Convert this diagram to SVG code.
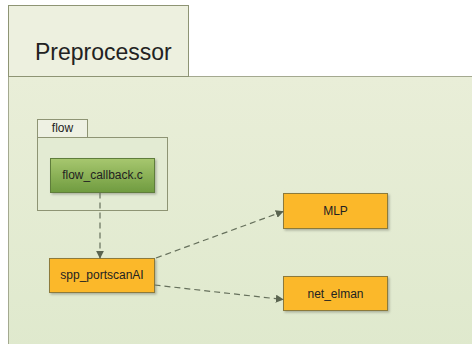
<svg xmlns="http://www.w3.org/2000/svg" width="472" height="344" viewBox="0 0 472 344">
<defs>
<linearGradient id="bg" x1="0" y1="0" x2="0" y2="1">
<stop offset="0" stop-color="#e9eed8"/>
<stop offset="1" stop-color="#dfe9cd"/>
</linearGradient>
<linearGradient id="green" x1="0" y1="0" x2="0" y2="1">
<stop offset="0" stop-color="#a7c76f"/>
<stop offset="1" stop-color="#6f9b3f"/>
</linearGradient>
<filter id="sh" x="-10%" y="-10%" width="130%" height="140%">
<feDropShadow dx="1.5" dy="1.5" stdDeviation="1" flood-color="#000" flood-opacity="0.25"/>
</filter>
<marker id="arr" viewBox="0 0 10 10" refX="9" refY="5" markerWidth="8" markerHeight="8" orient="auto" markerUnits="userSpaceOnUse">
<path d="M0,0 L10,5 L0,10 z" fill="#5a6450"/>
</marker>
</defs>
<style>
text{font-family:"Liberation Sans",Arial,sans-serif;fill:#222;}
.lbl{font-size:12px;text-anchor:middle;}
.orange{fill:#fbb829;stroke:#8c7a3a;stroke-width:1;}
.conn{fill:none;stroke:#66705c;stroke-width:1.2;stroke-dasharray:6,4;marker-end:url(#arr);}
</style>
<rect width="472" height="344" fill="#ffffff"/>
<g id="preprocessor">
<rect x="8.5" y="76.5" width="470" height="275" fill="url(#bg)" stroke="#a4a990" stroke-width="1"/>
<rect x="8.5" y="5.5" width="180" height="71" fill="#edf0df" stroke="#8e9474" stroke-width="1"/>
<text x="35" y="60" font-size="23">Preprocessor</text>
</g>
<g id="flow">
<rect x="37.5" y="137.5" width="130" height="73" fill="#e3ebd3" stroke="#8e9474" stroke-width="1"/>
<rect x="37.5" y="119.5" width="50" height="18" fill="#eef1e3" stroke="#8e9474" stroke-width="1"/>
<text x="62.5" y="132" class="lbl">flow</text>
</g>
<g id="flow_callback">
<rect x="50.5" y="158.5" width="104" height="34" fill="url(#green)" stroke="#5e7d3a" stroke-width="1" filter="url(#sh)"/>
<text x="102.5" y="178.5" class="lbl">flow_callback.c</text>
</g>
<g id="spp_portscanAI">
<rect x="49.5" y="258.5" width="105" height="34" class="orange" filter="url(#sh)"/>
<text x="102" y="279" class="lbl">spp_portscanAI</text>
</g>
<g id="MLP">
<rect x="283.5" y="193.5" width="104" height="35" class="orange" filter="url(#sh)"/>
<text x="335.5" y="215" class="lbl">MLP</text>
</g>
<g id="net_elman">
<rect x="283.5" y="276.5" width="104" height="34" class="orange" filter="url(#sh)"/>
<text x="335.5" y="297.5" class="lbl">net_elman</text>
</g>
<g id="connectors">
<path d="M100,192.5 L100,258" class="conn"/>
<path d="M156,258 L283,211.5" class="conn"/>
<path d="M154.5,285 L283,299.5" class="conn"/>
</g>
</svg>
